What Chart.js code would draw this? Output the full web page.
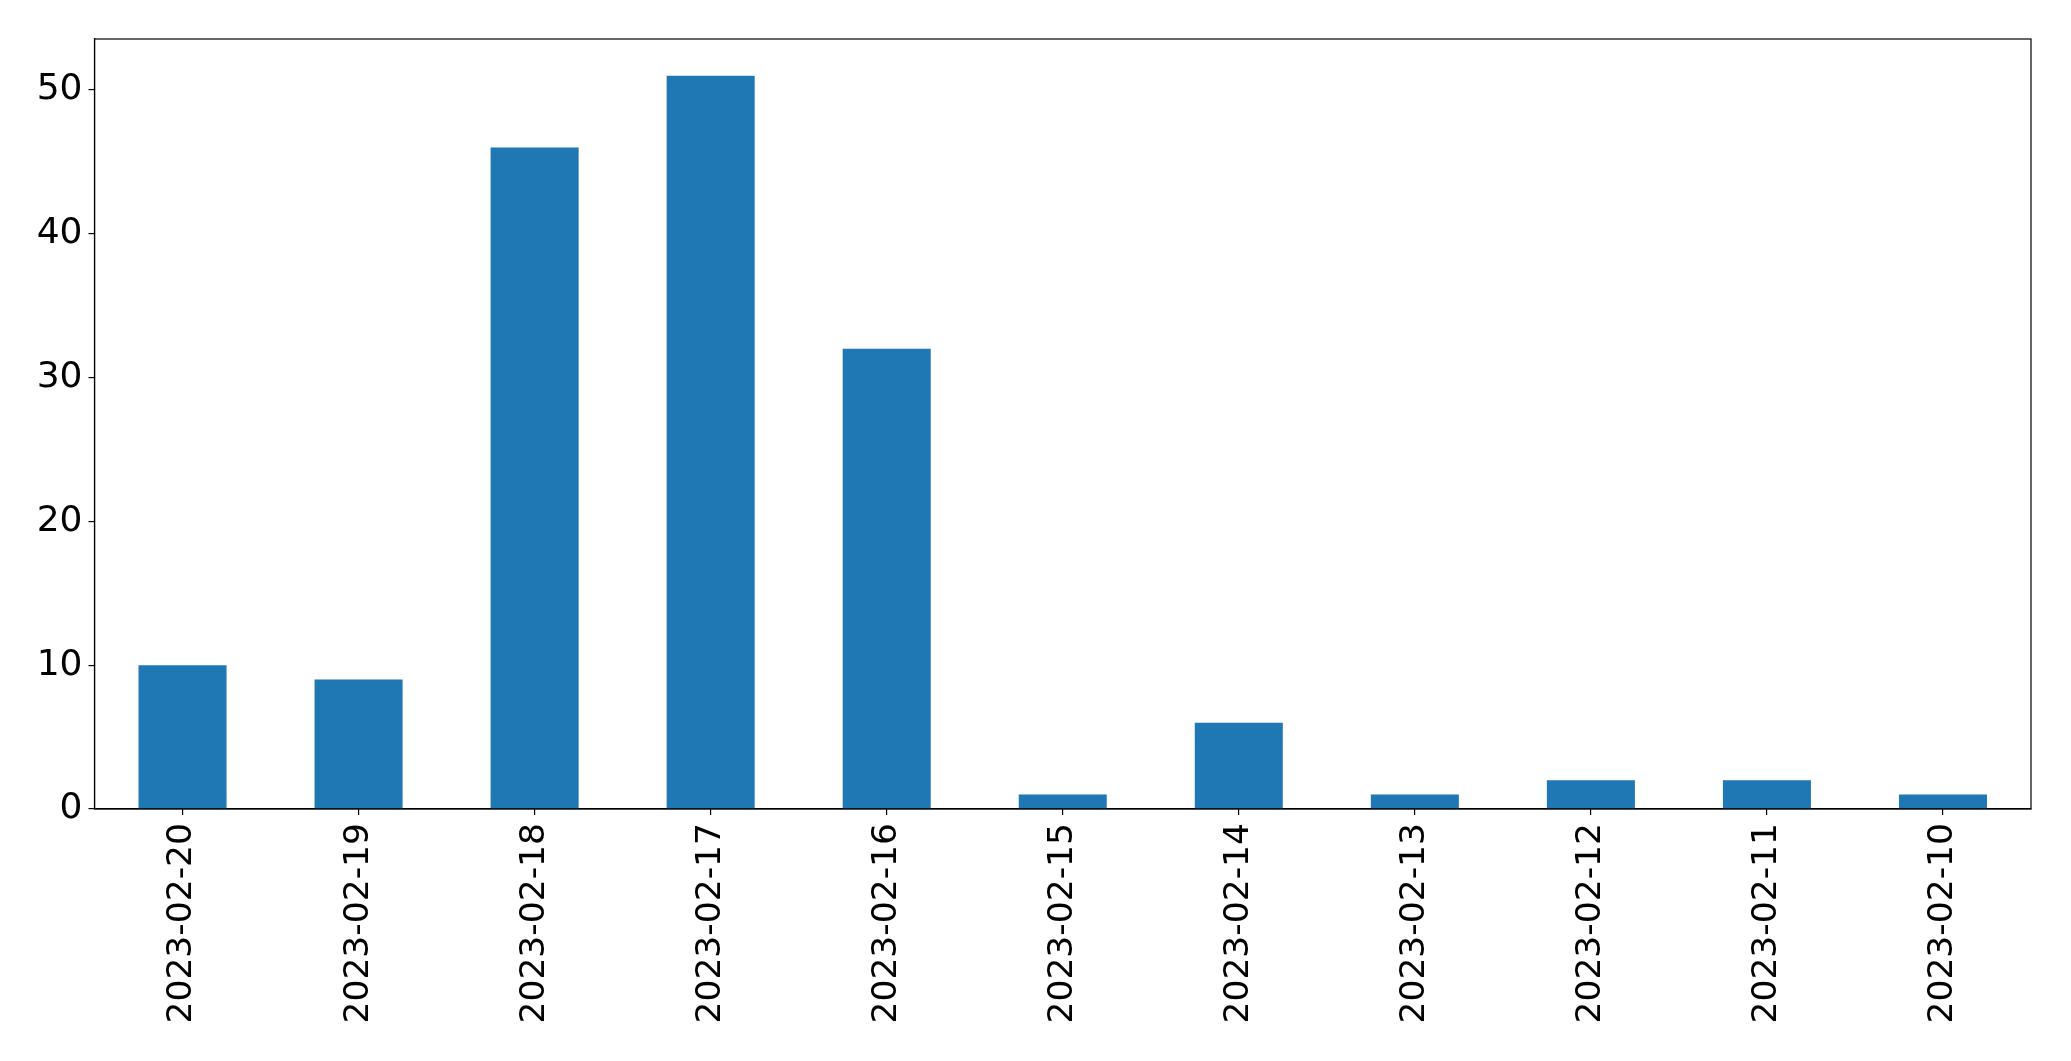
<!DOCTYPE html>
<html>
<head>
<meta charset="utf-8">
<script src="https://cdn.jsdelivr.net/npm/chart.js@4"></script>
<style>
  html, body { margin: 0; padding: 0; background: #fff; }
  #wrap { width: 2071px; height: 1061px; }
</style>
</head>
<body>
<div id="wrap"><canvas id="barChart"></canvas></div>
<script>
const dates = ['2023-02-20', '2023-02-19', '2023-02-18', '2023-02-17', '2023-02-16', '2023-02-15',
  '2023-02-14', '2023-02-13', '2023-02-12', '2023-02-11', '2023-02-10'];
const counts = [10, 9, 46, 51, 32, 1, 6, 1, 2, 2, 1];
const yTicks = [0, 10, 20, 30, 40, 50];

const frame = {
  id: 'frame',
  afterDraw(chart) {
    const a = chart.chartArea;
    const c = chart.ctx;
    c.save();
    c.strokeStyle = '#000';
    c.lineWidth = 1.2;
    c.strokeRect(a.left, a.top, a.right - a.left, a.bottom - a.top);
    c.restore();
  }
};

new Chart(document.getElementById('barChart'), {
  type: 'bar',
  data: {
    labels: dates,
    datasets: [{
      data: counts,
      backgroundColor: '#1f77b4',
      barPercentage: 0.5,
      categoryPercentage: 1.0
    }]
  },
  options: {
    responsive: true,
    maintainAspectRatio: false,
    animation: false,
    layout: { padding: { top: 39, right: 40, left: 0, bottom: 0 } },
    plugins: { legend: { display: false }, tooltip: { enabled: false } },
    scales: {
      x: {
        offset: true,
        grid: { offset: false, drawOnChartArea: false, drawTicks: true, tickLength: 6, color: '#000', lineWidth: 1.2 },
        border: { display: true, color: '#000', width: 1.2 },
        ticks: { color: '#000', font: { family: 'DejaVu Sans', size: 34.5 }, minRotation: 90, maxRotation: 90, padding: 8, autoSkip: false },
        afterFit(scale) { scale.height = 252; }
      },
      y: {
        min: 0,
        max: 53.55,
        grid: { drawOnChartArea: false, drawTicks: true, tickLength: 6, color: '#000', lineWidth: 1.2 },
        border: { display: true, color: '#000', width: 1.2 },
        ticks: { color: '#000', font: { family: 'DejaVu Sans', size: 36 }, stepSize: 10, padding: 6 },
        afterBuildTicks(scale) { scale.ticks = yTicks.map(v => ({ value: v })); },
        afterFit(scale) { scale.width = 94.5; }
      }
    }
  },
  plugins: [frame]
});
</script>
</body>
</html>
